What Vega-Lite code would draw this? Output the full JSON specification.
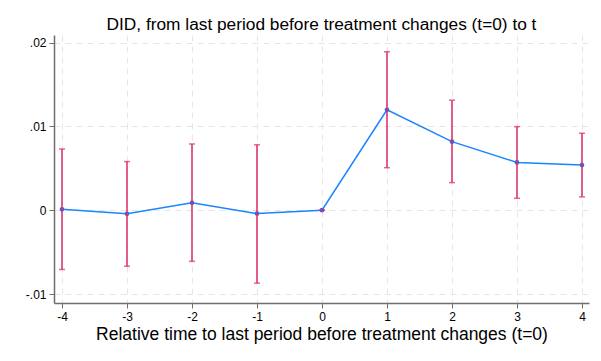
{
  "$schema": "https://vega.github.io/schema/vega-lite/v6.json",
  "width": 535,
  "height": 268,
  "autosize": {"type": "none"},
  "padding": {"left": 54, "top": 35, "right": 12, "bottom": 58},
  "background": "white",
  "config": {
    "font": "Liberation Sans",
    "view": {"stroke": null},
    "axis": {
      "domainColor": "#6e6e6e",
      "domainWidth": 1.5,
      "tickColor": "#6e6e6e",
      "tickWidth": 1,
      "tickSize": 5,
      "labelColor": "#000000",
      "titleColor": "#000000",
      "labelFont": "Liberation Sans",
      "titleFont": "Liberation Sans",
      "labelFontSize": 12,
      "titleFontWeight": "normal",
      "gridColor": "#e6e6e6",
      "gridDash": [6, 5],
      "gridWidth": 1
    }
  },
  "title": {
    "text": "DID, from last period before treatment changes (t=0) to t",
    "font": "Liberation Sans",
    "fontSize": 17.3,
    "fontWeight": "normal",
    "color": "#000000",
    "anchor": "middle",
    "offset": 2
  },
  "data": {
    "values": [
      {"t": -4, "b": 0.0001, "lo": -0.00707, "hi": 0.0073},
      {"t": -3, "b": -0.00043, "lo": -0.00668, "hi": 0.0058},
      {"t": -2, "b": 0.00088, "lo": -0.0061, "hi": 0.0079},
      {"t": -1, "b": -0.0004, "lo": -0.0087, "hi": 0.0078},
      {"t": 0, "b": 0, "lo": 0, "hi": 0},
      {"t": 1, "b": 0.01198, "lo": 0.00507, "hi": 0.0189},
      {"t": 2, "b": 0.00818, "lo": 0.00329, "hi": 0.01313},
      {"t": 3, "b": 0.0057, "lo": 0.00142, "hi": 0.00997},
      {"t": 4, "b": 0.00538, "lo": 0.00159, "hi": 0.00918}
    ]
  },
  "encoding": {
    "x": {
      "field": "t",
      "type": "quantitative",
      "scale": {"domain": [-4.123, 4.108], "nice": false, "zero": false},
      "axis": {
        "values": [-4, -3, -2, -1, 0, 1, 2, 3, 4],
        "labelExpr": "'' + datum.value",
        "title": "Relative time to last period before treatment changes (t=0)",
        "titleFontSize": 17.5,
        "titlePadding": 3,
        "labelPadding": 3
      }
    }
  },
  "layer": [
    {
      "mark": {"type": "line", "color": "#1a85ff", "strokeWidth": 1.5},
      "encoding": {
        "y": {
          "field": "b",
          "type": "quantitative",
          "scale": {"domain": [-0.01107, 0.0209], "nice": false, "zero": false},
          "axis": {
            "values": [-0.01, 0, 0.01, 0.02],
            "labelExpr": "datum.value == 0 ? '0' : replace('' + datum.value, '0.', '.')",
            "title": null,
            "labelPadding": 3
          }
        }
      }
    },
    {
      "mark": {"type": "point", "filled": true, "color": "#2f6ee8", "size": 22, "opacity": 1},
      "encoding": {"y": {"field": "b", "type": "quantitative"}}
    },
    {
      "mark": {"type": "rule", "color": "#dc2a68", "strokeWidth": 1.5},
      "encoding": {
        "y": {"field": "lo", "type": "quantitative"},
        "y2": {"field": "hi"}
      }
    },
    {
      "mark": {"type": "tick", "color": "#dc2a68", "orient": "horizontal", "size": 6, "thickness": 1.5},
      "encoding": {"y": {"field": "lo", "type": "quantitative"}}
    },
    {
      "mark": {"type": "tick", "color": "#dc2a68", "orient": "horizontal", "size": 6, "thickness": 1.5},
      "encoding": {"y": {"field": "hi", "type": "quantitative"}}
    }
  ]
}
